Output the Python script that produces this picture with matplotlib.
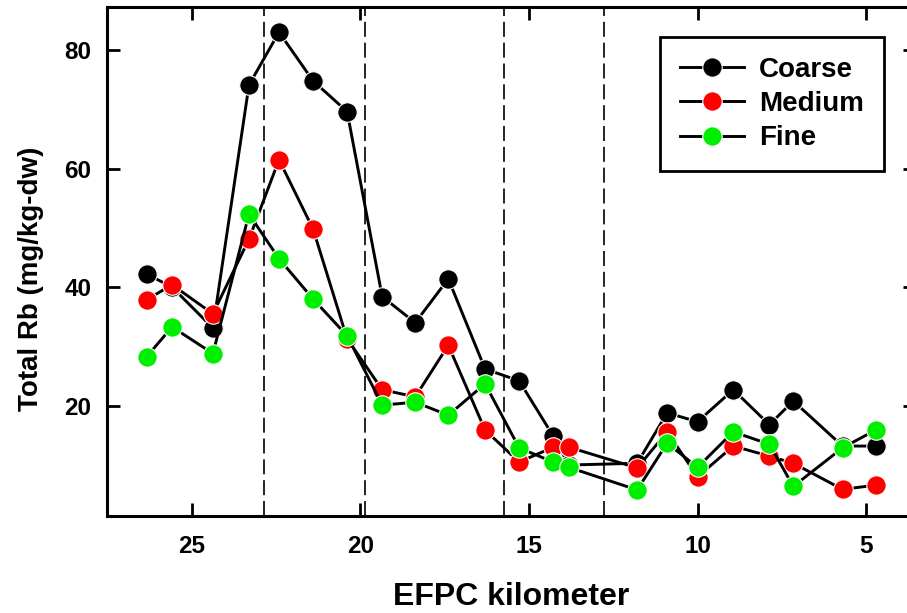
import numpy as np
import matplotlib.pyplot as plt

# EFPC kilometer of each sampling site
km = [26.33, 25.58, 24.37, 23.30, 22.41, 21.40, 20.39, 19.35, 18.37, 17.39, 16.30,
      15.29, 14.28, 13.81, 11.79, 10.90, 10.00, 8.94, 7.87, 7.16, 5.70, 4.72]

# Total Rb (mg/kg-dw) by size fraction
coarse = [42.2, 40.0, 33.1, 74.1, 83.0, 74.8, 69.6, 38.4, 34.0, 41.4, 26.2,
          24.2, 14.9, 10.0, 10.3, 18.8, 17.3, 22.7, 16.8, 20.8, 13.2, 13.2]
medium = [37.9, 40.4, 35.5, 48.1, 61.5, 49.8, 31.3, 22.7, 21.5, 30.2, 15.9,
          10.5, 13.0, 13.0, 9.5, 15.6, 8.0, 13.2, 11.5, 10.3, 5.9, 6.6]
fine = [28.3, 33.3, 28.8, 52.3, 44.8, 38.0, 31.8, 20.1, 20.6, 18.4, 23.7,
        12.9, 10.5, 9.6, 5.8, 13.7, 9.6, 15.6, 13.5, 6.4, 12.9, 15.9]

# reach boundaries
boundaries = [22.85, 19.87, 15.75, 12.78]

plt.rcParams['font.family'] = ['Liberation Sans', 'DejaVu Sans']
plt.rcParams['font.weight'] = 'bold'

fig = plt.figure(figsize=(9.07, 6.13), dpi=100)
ax = fig.add_axes([0.1176, 0.1587, 0.8924, 0.8294])

for xb in boundaries:
    ax.axvline(xb, color='black', lw=1.2, dashes=(9, 3.5), zorder=1)

series = [('Coarse', coarse, 'black'), ('Medium', medium, '#ff0000'), ('Fine', fine, '#00ee00')]
for name, vals, col in series:
    ax.plot(km, vals, color='black', lw=2.1, marker='o', ms=14, mfc=col,
            mec='white', mew=0.8, label=name, zorder=2)

ax.set_xlim(27.52, 3.52)
ax.set_ylim(1.45, 87.2)
ax.set_xticks([25, 20, 15, 10, 5])
ax.set_yticks([20, 40, 60, 80])

for s in ax.spines.values():
    s.set_linewidth(2.2)
ax.tick_params(direction='in', length=9.5, width=2, top=True, right=True,
               labelsize=17.5)
ax.tick_params(axis='y', pad=11)
ax.tick_params(axis='x', pad=14)

ax.set_xlabel('EFPC kilometer', fontsize=23, fontweight='bold', labelpad=17)
ax.set_ylabel('Total Rb (mg/kg-dw)', fontsize=20, fontweight='bold')
ax.yaxis.set_label_coords(-0.077, 0.466)

leg = ax.legend(loc='upper right', bbox_to_anchor=(0.960, 0.942), fontsize=20,
                fancybox=False, framealpha=1, edgecolor='black',
                handlelength=2.3, handletextpad=0.55, borderpad=0.72,
                labelspacing=0.3, borderaxespad=0)
leg.get_frame().set_linewidth(2)

fig.savefig('out.png', dpi=100)
